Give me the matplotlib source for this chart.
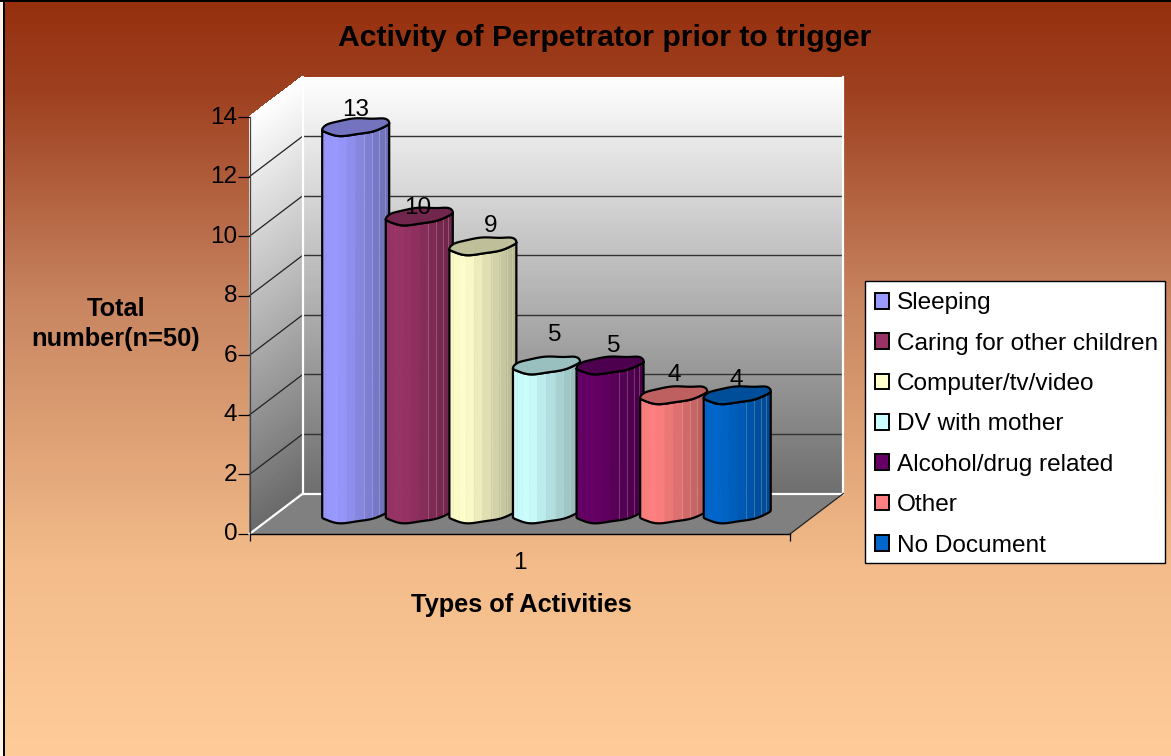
#!/usr/bin/env python3
"""Activity of perpetrator prior to trigger, faux 3D cylinder chart."""

import matplotlib

matplotlib.use("Agg")
import matplotlib.pyplot as plt
import numpy as np
from matplotlib.colors import LinearSegmentedColormap, to_rgb
from matplotlib.patches import Polygon, Rectangle
from matplotlib.transforms import Affine2D, IdentityTransform

categories = [
    "Sleeping",
    "Caring for other children",
    "Computer/tv/video",
    "DV with mother",
    "Alcohol/drug related",
    "Other",
    "No Document",
]
values = [13, 10, 9, 5, 5, 4, 4]
colors = ["#9999FF", "#993366", "#FFFFCC", "#CCFFFF", "#660066", "#FF8080", "#0066CC"]
y_ticks = [0, 2, 4, 6, 8, 10, 12, 14]

W, H = 1171, 756
FONT = "Liberation Sans"
DEPTH = np.array([53.4, 40.5])  # pixels, front plane to back wall
BAR_DEPTH = np.array([26.7, 20.5])
HALF_W = 33.5
CAP_B, CAP_K = 8.0, 3.5
LABEL_NUDGE = [(0, 16), (-2, 8), (8, 19), (8, 30), (4, 19), (1, 19), (-1, 14)]
STRIPS = 12

fig = plt.figure(figsize=(W / 100, H / 100), dpi=100)

bg = fig.add_axes([0, 0, 1, 1], zorder=0)
bg_map = LinearSegmentedColormap.from_list(
    "bg", [(0, "#96300E"), (0.12, "#9E4020"), (0.4, "#C88560"), (0.75, "#F3BC8A"), (1, "#FFCC99")]
)
bg.imshow(np.linspace(0, 1, 256)[:, None], aspect="auto", cmap=bg_map, extent=(0, 1, 0, 1))
bg.axis("off")

# the source screenshot only has a black edge on the top and the left
fig.add_artist(Rectangle((0, 0), 3 / W, 1, transform=fig.transFigure, fc="#FFF3E6", lw=0))
fig.add_artist(Rectangle((3 / W, 0), 1.5 / W, 1, transform=fig.transFigure, fc="black", lw=0))
fig.add_artist(Rectangle((0, 1 - 1.5 / H), 1, 1.5 / H, transform=fig.transFigure, fc="black", lw=0))

ax = fig.add_axes([249.5 / W, 1 - 534 / H, 540.5 / W, 417 / H], zorder=1)
ax.patch.set_alpha(0)
ax.set_xlim(-1.25, 7.25)
ax.set_ylim(0, 14)


def px(x, v, shift=(0, 0)):
    return ax.transData.transform((x, v)) + np.asarray(shift)


def shape(pts, **kw):
    kw.setdefault("lw", 0)
    ax.add_patch(Polygon(pts, closed=True, transform=IdentityTransform(), clip_on=False, **kw))


def line(a, b, **kw):
    ax.plot([a[0], b[0]], [a[1], b[1]], transform=IdentityTransform(), clip_on=False, **kw)


wall_map = LinearSegmentedColormap.from_list("wall", ["#6E6E6E", "#FFFFFF"])
side_map = LinearSegmentedColormap.from_list("side", ["#6A6A6A", "#FFFFFF"])
x0, x1 = ax.get_xlim()

# floor
shape([px(x0, 0), px(x1, 0), px(x1, 0, DEPTH), px(x0, 0, DEPTH)], fc="#808080", zorder=1)

# walls as thin bands
levels = np.linspace(0, 14, 141)
for lo, hi in zip(levels[:-1], levels[1:]):
    c = wall_map(lo / 14)
    shape([px(x0, lo, DEPTH), px(x1, lo, DEPTH), px(x1, hi, DEPTH), px(x0, hi, DEPTH)],
          fc=c, ec=c, lw=0.6, antialiased=False, zorder=1)
    c = side_map(lo / 14)
    shape([px(x0, lo), px(x0, lo, DEPTH), px(x0, hi, DEPTH), px(x0, hi)],
          fc=c, ec=c, lw=0.6, antialiased=False, zorder=1)

for v in y_ticks[1:-1]:
    line(px(x0, v), px(x0, v, DEPTH), color="#222222", lw=0.9, zorder=2)
    line(px(x0, v, DEPTH), px(x1, v, DEPTH), color="#333333", lw=1.0, zorder=2)

# white wall edges
line(px(x0, 0, DEPTH), px(x0, 14, DEPTH), color="white", lw=1.6, zorder=2)
line(px(x0, 0, DEPTH), px(x1, 0, DEPTH), color="white", lw=1.6, zorder=2)
line(px(x1, 0, DEPTH), px(x1, 14, DEPTH), color="white", lw=1.6, zorder=2)
line(px(x0, 0), px(x0, 0, DEPTH), color="white", lw=1.6, zorder=2)
line(px(x1, 0), px(x1, 0, DEPTH), color="#222222", lw=0.9, zorder=2)


def cap_points(c, t):
    wobble = 1.0 * np.sin(3 * t + 0.6) + 0.8 * np.sin(5 * t)
    return np.column_stack([
        c[0] + HALF_W * np.cos(t),
        c[1] + (CAP_B + wobble) * np.sin(t) + CAP_K * np.cos(t),
    ])


def shade(u):
    # u runs 0 at the left edge to 1 at the right edge
    if u < 0.25:
        return 0.97 + 0.12 * u
    return 1.0 - 0.3 * (u - 0.25) / 0.75


for i, (val, col) in enumerate(zip(values, colors)):
    z = 3 + i
    base = px(i, 0, BAR_DEPTH)
    top = px(i, val, BAR_DEPTH)
    rgb = np.array(to_rgb(col))
    # faceted side of the cylinder
    t = np.linspace(np.pi, 2 * np.pi, STRIPS + 1)
    low = cap_points(base, t)
    up = cap_points(top, t)
    for k in range(STRIPS):
        u = 0.5 + 0.25 * (np.cos(t[k]) + np.cos(t[k + 1]))
        fc = np.clip(rgb * shade(u), 0, 1)
        shape([low[k], low[k + 1], up[k + 1], up[k]], fc=fc, ec=fc, lw=0.4, zorder=z)
    for k in range(7, 11):
        line(low[k], up[k], color="white", alpha=0.22, lw=0.7, zorder=z + 0.05)
    tt = np.linspace(np.pi, 2 * np.pi, 61)
    outline = np.vstack([cap_points(base, tt), cap_points(top, tt)[::-1]])
    shape(outline, fill=False, ec="black", lw=1.6, zorder=z + 0.1)
    t = np.linspace(0, 2 * np.pi, 121)
    shape(cap_points(top, t), fc=rgb * 0.75, ec="black", lw=1.6, zorder=z + 0.2)
    nx, ny = LABEL_NUDGE[i]
    lx, ly = top + np.array([nx, ny])
    ax.text(lx, ly, str(val), transform=IdentityTransform(), ha="center", va="center",
            fontsize=17.5, family=FONT, color="black", zorder=20, clip_on=False)

# front axes
for side in ("top", "right"):
    ax.spines[side].set_visible(False)
ax.spines["left"].set_color("#444444")
ax.spines["left"].set_linewidth(0.9)
ax.spines["bottom"].set_color("black")
ax.spines["bottom"].set_linewidth(1.0)
ax.set_yticks(y_ticks)
ax.set_yticklabels([str(v) for v in y_ticks], family=FONT, fontsize=17.5)
ax.tick_params(axis="y", length=8.5, width=0.9, pad=0.3)
for lab in ax.get_yticklabels():
    lab.set_transform(lab.get_transform() + Affine2D().translate(0, 2))
ax.set_xticks([x0, x1])
ax.set_xticklabels(["", ""])
ax.tick_params(axis="x", length=5, width=0.9)
ax.set_xticks([3], minor=True)
ax.set_xticklabels(["1"], minor=True, family=FONT, fontsize=17.5)
ax.tick_params(axis="x", which="minor", length=0, pad=13)

fig.text(604.5 / W, 1 - 37.5 / H, "Activity of Perpetrator prior to trigger", ha="center", va="center",
         family=FONT, weight="bold", fontsize=21.7)
fig.text(116 / W, 1 - 324 / H, "Total\nnumber(n=50)", ha="center", va="center", family=FONT,
         weight="bold", fontsize=18.3, linespacing=1.34)
fig.text(521 / W, 1 - 605 / H, "Types of Activities", ha="center", va="center", family=FONT,
         weight="bold", fontsize=18.3)

# own frame, the legend box has uneven margins in the source
frame = Rectangle((865 / W, 1 - 563 / H), 300 / W, 282 / H, transform=fig.transFigure,
                  fc="white", ec="black", lw=1.0, zorder=29)
fig.add_artist(frame)
handles = [Rectangle((0, 0), 1, 1, fc=c, ec="black", lw=1.4) for c in colors]
leg = fig.legend(
    handles, categories, loc="upper left", bbox_to_anchor=(875 / W, 1 - 292.5 / H), borderaxespad=0,
    prop={"family": FONT, "size": 17.6}, frameon=False, handlelength=0.58, handleheight=0.62,
    handletextpad=0.33, labelspacing=0.75, borderpad=0,
)
leg.set_zorder(30)

fig.savefig("out.png", dpi=100)
